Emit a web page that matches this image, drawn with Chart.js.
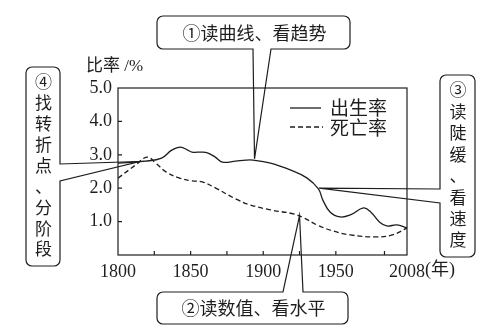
<!DOCTYPE html>
<html>
<head>
<meta charset="utf-8">
<script src="https://cdn.jsdelivr.net/npm/chart.js@4"></script>
<style>
  html, body { margin: 0; padding: 0; background: #fff; }
  #wrap { width: 492px; height: 336px; position: relative; }
</style>
</head>
<body>
<div id="wrap"><canvas id="rateChart" width="492" height="336"></canvas></div>
<script>
/* ── Data ─────────────────────────────────────────────────── */
const birthYears = [1800, 1819, 1830, 1837, 1843, 1848, 1851, 1858, 1862, 1867, 1872, 1881, 1888, 1893,
                    1905, 1919, 1930, 1938, 1941, 1946, 1953, 1960, 1969, 1974, 1980, 1985, 1992, 1999];
const birthRates = [2.75, 2.81, 2.90, 3.14, 3.23, 3.14, 3.08, 3.08, 3.05, 2.93, 2.78, 2.81, 2.84, 2.84,
                    2.75, 2.54, 2.31, 1.98, 1.65, 1.29, 1.14, 1.20, 1.41, 1.29, 0.99, 0.87, 0.90, 0.81];

const deathYears = [1800, 1812, 1820, 1826, 1833, 1842, 1851, 1858, 1867, 1881, 1891, 1905, 1921, 1928,
                    1937, 1948, 1960, 1978, 1989, 1999];
const deathRates = [2.30, 2.69, 2.93, 2.75, 2.49, 2.31, 2.22, 2.19, 2.01, 1.68, 1.50, 1.35, 1.23, 1.11,
                    0.90, 0.72, 0.60, 0.54, 0.60, 0.81];

/* x ticks: the last one stands for 2008 */
const xTickValues = [1800, 1825, 1850, 1875, 1900, 1925, 1950, 1983.5, 1999];
const xTickLabels = ['1800', '', '1850', '', '1900', '', '1950', '', '2008'];
const yTickValues = [1, 2, 3, 4, 5];

const INK = '#1e1e1e';
const SERIF = '"Liberation Serif", "Noto Sans CJK SC", serif';
const CJK = '"Noto Sans CJK SC", sans-serif';

/* ── Callout boxes (text + where the tail points, in data units) ── */
const callouts = [
  { text: '①读曲线、看趋势', box: [157, 16, 350, 49], side: 'bottom', tail: [253, 271], anchor: [1894, 2.88] },
  { text: '②读数值、看水平', box: [157, 292, 348, 324], side: 'top', tail: [283, 303], anchor: [1925, 1.18] },
  { text: '③读陡缓、看速度', box: [440, 75, 475, 257], side: 'left', tail: [189, 203], anchor: [1938.5, 2.0], vertical: true },
  { text: '④找转折点、分阶段', box: [26, 67, 60, 266], side: 'right', tail: [164, 181], anchor: [1815, 2.8], vertical: true }
];

function calloutPath(ctx, c, px, py) {
  const [x0, y0, x1, y1] = c.box;
  const r = 6, a = c.tail[0], b = c.tail[1];
  ctx.beginPath();
  ctx.moveTo(x0 + r, y0);
  if (c.side === 'top') { ctx.lineTo(a, y0); ctx.lineTo(px, py); ctx.lineTo(b, y0); }
  ctx.lineTo(x1 - r, y0);
  ctx.arcTo(x1, y0, x1, y0 + r, r);
  if (c.side === 'right') { ctx.lineTo(x1, a); ctx.lineTo(px, py); ctx.lineTo(x1, b); }
  ctx.lineTo(x1, y1 - r);
  ctx.arcTo(x1, y1, x1 - r, y1, r);
  if (c.side === 'bottom') { ctx.lineTo(b, y1); ctx.lineTo(px, py); ctx.lineTo(a, y1); }
  ctx.lineTo(x0 + r, y1);
  ctx.arcTo(x0, y1, x0, y1 - r, r);
  if (c.side === 'left') { ctx.lineTo(x0, b); ctx.lineTo(px, py); ctx.lineTo(x0, a); }
  ctx.lineTo(x0, y0 + r);
  ctx.arcTo(x0, y0, x0 + r, y0, r);
  ctx.closePath();
}

/* ── Frame, inner ticks, legend, labels and callouts ──────── */
const decorPlugin = {
  id: 'decor',
  afterDraw(chart) {
    const ctx = chart.ctx, area = chart.chartArea;
    const xs = chart.scales.x, ys = chart.scales.y;
    ctx.save();
    ctx.strokeStyle = INK;
    ctx.lineWidth = 1.2;
    ctx.strokeRect(area.left, area.top, area.right - area.left, area.bottom - area.top);

    /* inner tick marks */
    ctx.beginPath();
    xTickValues.slice(1, -1).forEach(v => {
      const px = xs.getPixelForValue(v);
      ctx.moveTo(px, area.bottom); ctx.lineTo(px, area.bottom - 4);
    });
    yTickValues.slice(0, -1).forEach(v => {
      const py = ys.getPixelForValue(v);
      ctx.moveTo(area.left, py); ctx.lineTo(area.left + 4, py);
    });
    ctx.stroke();

    /* axis titles */
    ctx.fillStyle = INK;
    ctx.textBaseline = 'middle';
    ctx.textAlign = 'left';
    ctx.font = '17px ' + SERIF;
    ctx.fillText('比率 /%', 86, 67);
    ctx.font = '18px ' + SERIF;
    ctx.fillText('(年)', 425, 270);

    /* legend */
    ctx.lineWidth = 1.3;
    ctx.beginPath(); ctx.moveTo(290, 108); ctx.lineTo(321, 108); ctx.stroke();
    ctx.setLineDash([5, 3]);
    ctx.beginPath(); ctx.moveTo(290, 127); ctx.lineTo(323, 127); ctx.stroke();
    ctx.setLineDash([]);
    ctx.font = '19px ' + CJK;
    ctx.fillText('出生率', 330, 108);
    ctx.fillText('死亡率', 330, 128);

    /* callouts */
    ctx.lineWidth = 1.2;
    callouts.forEach(c => {
      const px = xs.getPixelForValue(c.anchor[0]);
      const py = ys.getPixelForValue(c.anchor[1]);
      calloutPath(ctx, c, px, py);
      ctx.stroke();
      const [x0, y0, x1, y1] = c.box;
      ctx.textAlign = 'center';
      if (c.vertical) {
        ctx.font = '17px ' + CJK;
        const chars = Array.from(c.text);
        const top = y0 + 15, bottom = y1 - 17;
        const step = (bottom - top) / (chars.length - 1);
        chars.forEach((ch, i) => ctx.fillText(ch, (x0 + x1) / 2 + 0.5, top + i * step));
      } else {
        ctx.font = '18px ' + CJK;
        ctx.fillText(c.text, (x0 + x1) / 2 + 1, (y0 + y1) / 2 + 0.5);
      }
    });
    ctx.restore();
  }
};

const ctx = document.getElementById('rateChart').getContext('2d');
new Chart(ctx, {
  type: 'line',
  data: {
    datasets: [
      {
        label: '出生率',
        data: birthYears.map((x, i) => ({ x, y: birthRates[i] })),
        borderColor: INK,
        borderWidth: 1.3,
        pointRadius: 0,
        tension: 0.4,
        fill: false
      },
      {
        label: '死亡率',
        data: deathYears.map((x, i) => ({ x, y: deathRates[i] })),
        borderColor: INK,
        borderWidth: 1.3,
        borderDash: [5, 3],
        pointRadius: 0,
        tension: 0.4,
        fill: false
      }
    ]
  },
  options: {
    responsive: false,
    animation: false,
    layout: { padding: { left: 0, top: 88, right: 85, bottom: 41 } },
    plugins: { legend: { display: false }, tooltip: { enabled: false } },
    scales: {
      x: {
        type: 'linear',
        min: 1800,
        max: 1999,
        afterBuildTicks: s => { s.ticks = xTickValues.map(v => ({ value: v })); },
        afterFit: s => { s.height = 40; },
        grid: { display: false, drawTicks: false },
        border: { display: false },
        ticks: {
          autoSkip: false,
          maxRotation: 0,
          padding: 6,
          color: INK,
          font: { family: SERIF, size: 18 },
          callback: (v, i) => xTickLabels[i]
        }
      },
      y: {
        min: 0,
        max: 5,
        afterBuildTicks: s => { s.ticks = yTickValues.map(v => ({ value: v })); },
        afterFit: s => { s.width = 118; },
        grid: { display: false, drawTicks: false },
        border: { display: false },
        ticks: {
          padding: 6,
          color: INK,
          font: { family: SERIF, size: 18 },
          callback: v => v.toFixed(1)
        }
      }
    }
  },
  plugins: [decorPlugin]
});
</script>
</body>
</html>
